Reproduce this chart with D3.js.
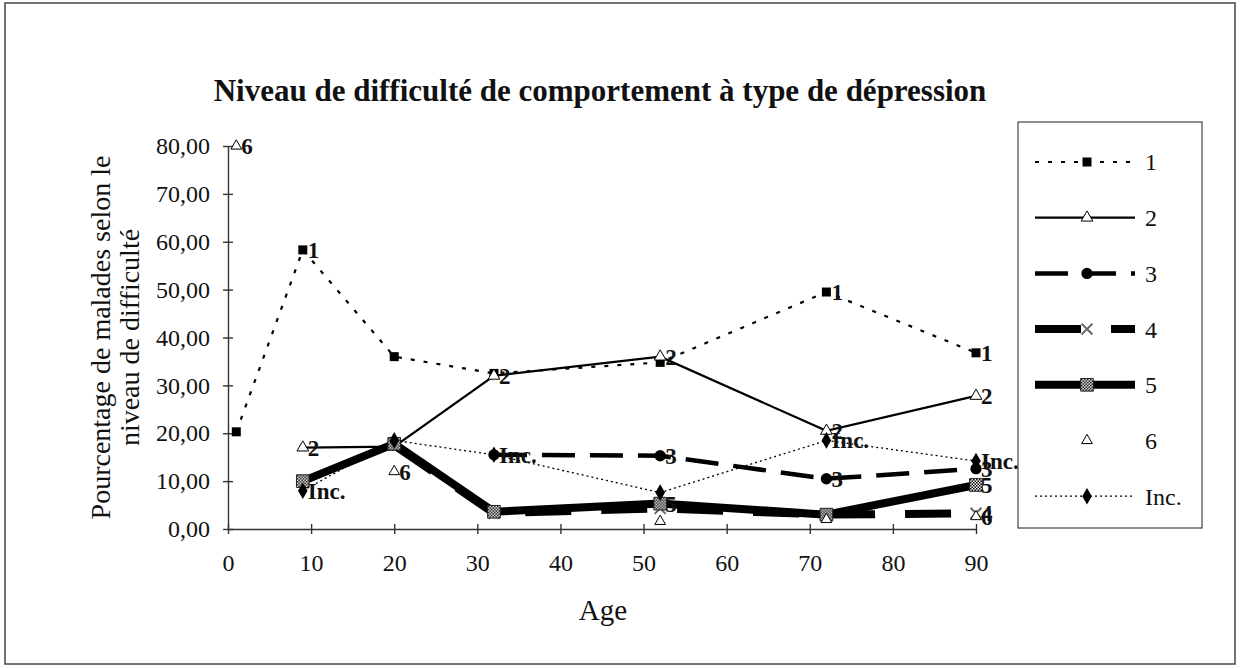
<!DOCTYPE html>
<html>
<head>
<meta charset="utf-8">
<script src="https://cdn.jsdelivr.net/npm/d3@7"></script>
<style>
  body { margin: 0; background: #fff; }
  text { font-family: "Liberation Serif", "Times New Roman", serif; fill: #111; }
</style>
</head>
<body>
<div class="graph"></div>
<script>
// ages where the values were measured
const ages = [1, 9, 20, 32, 52, 72, 90];
const serie1 = [20.3, 58.3, 36.0, 32.5, 34.8, 49.5, 36.8];
const serie2 = [null, 17.0, 17.2, 32.0, 36.0, 20.5, 27.8];
const serie3 = [null, null, null, 15.5, 15.3, 10.5, 12.6];
const serie4 = [null, null, 17.5, 3.3, 4.3, 3.0, 3.3];
const serie5 = [null, 10.0, 17.8, 3.6, 5.3, 3.0, 9.2];
const serie6 = [80.0, null, 12.0, null, 1.6, 2.0, 2.6];
const serieInc = [null, 8.0, 18.5, 15.5, 7.6, 18.5, 14.2];
// ages that carry a data label
const labels1 = [9, 72, 90];
const labels2 = [9, 32, 52, 72, 90];
const labels3 = [52, 72, 90];
const labels4 = [90];
const labels5 = [52, 90];
const labels6 = [1, 20, 90];
const labelsInc = [9, 32, 72, 90];
const xTicks = [0, 10, 20, 30, 40, 50, 60, 70, 80, 90];
const yTicks = [0, 10, 20, 30, 40, 50, 60, 70, 80];

const title = 'Niveau de difficulté de comportement à type de dépression';

const width = 1241, height = 668;
const svg = d3.select('.graph')
    .append('svg')
    .attr('width', width)
    .attr('height', height);

const defs = svg.append('defs');
const checker = defs.append('pattern')
    .attr('id', 'checker')
    .attr('width', 3).attr('height', 3)
    .attr('patternUnits', 'userSpaceOnUse');
checker.append('rect').attr('width', 3).attr('height', 3).attr('fill', '#fff');
checker.append('rect').attr('width', 1.5).attr('height', 1.5).attr('fill', '#000');
checker.append('rect').attr('x', 1.5).attr('y', 1.5).attr('width', 1.5).attr('height', 1.5).attr('fill', '#000');

// outer frame
svg.append('rect')
    .attr('x', 5).attr('y', 3)
    .attr('width', 1230).attr('height', 661)
    .attr('fill', 'none')
    .attr('stroke', '#444')
    .attr('stroke-width', 1.5);

svg.append('text')
    .attr('x', 600)
    .attr('y', 101)
    .style('font-size', '31px')
    .style('font-weight', 'bold')
    .style('text-anchor', 'middle')
    .text(title);

const margin = {top: 146, left: 228, right: 265, bottom: 139};
const chartWidth = width - margin.left - margin.right;
const chartHeight = height - margin.top - margin.bottom;
const chart = svg.append('g')
    .attr('transform', `translate(${margin.left},${margin.top})`);

const xScale = d3.scaleLinear().domain([0, 90]).range([0, chartWidth]);
const yScale = d3.scaleLinear().domain([0, 80]).range([chartHeight, 0]);
const frFormat = d3.formatLocale({decimal: ',', thousands: ' ', grouping: [3], currency: ['', ' €']}).format('.2f');

const yAxis = d3.axisLeft(yScale)
    .tickValues(yTicks)
    .tickFormat(frFormat)
    .tickSizeInner(5)
    .tickSizeOuter(0)
    .tickPadding(13);
const yG = chart.append('g').classed('y axis', true).call(yAxis);
yG.selectAll('.tick line').attr('x1', 5);

const xAxis = d3.axisBottom(xScale)
    .tickValues(xTicks)
    .tickSizeInner(5)
    .tickSizeOuter(0)
    .tickPadding(20);
const xG = chart.append('g').classed('x axis', true)
    .attr('transform', `translate(0,${chartHeight})`)
    .call(xAxis);
xG.selectAll('.tick line').attr('y1', -5);

chart.selectAll('.axis path, .axis line')
    .attr('stroke', '#333')
    .attr('stroke-width', 1.4);
chart.selectAll('.axis text')
    .style('font-size', '24px')
    .attr('fill', '#111');

chart.append('text')
    .attr('x', 375)
    .attr('y', 474)
    .style('font-size', '29px')
    .style('text-anchor', 'middle')
    .text('Age');

const yTitle = ['Pourcentage de malades selon le', 'niveau de difficulté'];
yTitle.forEach((t, i) => {
    svg.append('text')
        .attr('transform', `translate(${110 + i * 29}, ${margin.top + chartHeight / 2}) rotate(-90)`)
        .style('font-size', '28px')
        .style('text-anchor', 'middle')
        .text(t);
});

const seriesList = [
    {name: '1', values: serie1, labels: labels1, width: 2.2, dash: '4,9', symbol: d3.symbolSquare, size: 81, fill: '#000', stroke: 'none'},
    {name: '2', values: serie2, labels: labels2, width: 2.2, dash: null, symbol: d3.symbolTriangle, size: 60, fill: '#fff', stroke: '#000'},
    {name: '3', values: serie3, labels: labels3, width: 4.5, dash: '33,15', symbol: d3.symbolCircle, size: 100, fill: '#000', stroke: 'none'},
    {name: '4', values: serie4, labels: labels4, width: 8, dash: '46,30', symbol: d3.symbolTimes || d3.symbolCross, size: 80, fill: 'none', stroke: '#666'},
    {name: '5', values: serie5, labels: labels5, width: 8, dash: null, symbol: d3.symbolSquare, size: 160, fill: 'url(#checker)', stroke: '#222'},
    {name: '6', values: serie6, labels: labels6, width: 0, dash: null, symbol: d3.symbolTriangle, size: 50, fill: '#fff', stroke: '#000'},
    {name: 'Inc.', values: serieInc, labels: labelsInc, width: 1.3, dash: '2,3', symbol: d3.symbolDiamond, size: 80, fill: '#000', stroke: 'none'}
];

const line = d3.line()
    .defined(d => d[1] != null)
    .x(d => xScale(d[0]))
    .y(d => yScale(d[1]));

seriesList.forEach(s => {
    const pts = ages.map((a, i) => [a, s.values[i]]);
    if (s.width > 0) {
        chart.append('path')
            .datum(pts)
            .attr('d', line)
            .attr('fill', 'none')
            .attr('stroke', '#000')
            .attr('stroke-width', s.width)
            .attr('stroke-dasharray', s.dash);
    }
    chart.selectAll(null)
        .data(pts.filter(d => d[1] != null))
        .enter()
        .append('path')
        .attr('d', d3.symbol().type(s.symbol).size(s.size))
        .attr('transform', d => `translate(${xScale(d[0])},${yScale(d[1])})`)
        .attr('fill', s.fill)
        .attr('stroke', s.stroke)
        .attr('stroke-width', s.symbol === (d3.symbolTimes || d3.symbolCross) ? 2 : 1);
});

// data labels on top
seriesList.forEach(s => {
    const pts = ages.map((a, i) => [a, s.values[i]])
        .filter(d => d[1] != null && s.labels.includes(d[0]));
    chart.selectAll(null)
        .data(pts)
        .enter()
        .append('text')
        .attr('x', d => xScale(d[0]) + 5)
        .attr('y', d => yScale(d[1]))
        .attr('dy', '0.35em')
        .style('font-size', '23px')
        .style('font-weight', 'bold')
        .text(s.name);
});

// legend
const legend = svg.append('g').attr('transform', 'translate(1018,122)');
legend.append('rect')
    .attr('width', 184).attr('height', 406)
    .attr('fill', '#fff')
    .attr('stroke', '#444')
    .attr('stroke-width', 1.2);
seriesList.forEach((s, i) => {
    const y = 40 + i * 55.7;
    if (s.width > 0) {
        legend.append('line')
            .attr('x1', 17).attr('x2', 117)
            .attr('y1', y).attr('y2', y)
            .attr('stroke', '#000')
            .attr('stroke-width', s.width)
            .attr('stroke-dasharray', s.dash);
    }
    legend.append('path')
        .attr('d', d3.symbol().type(s.symbol).size(s.size))
        .attr('transform', `translate(69,${y})`)
        .attr('fill', s.fill)
        .attr('stroke', s.stroke)
        .attr('stroke-width', s.symbol === (d3.symbolTimes || d3.symbolCross) ? 2 : 1);
    legend.append('text')
        .attr('x', 127)
        .attr('y', y)
        .attr('dy', '0.35em')
        .style('font-size', '24px')
        .text(s.name);
});
</script>
</body>
</html>
